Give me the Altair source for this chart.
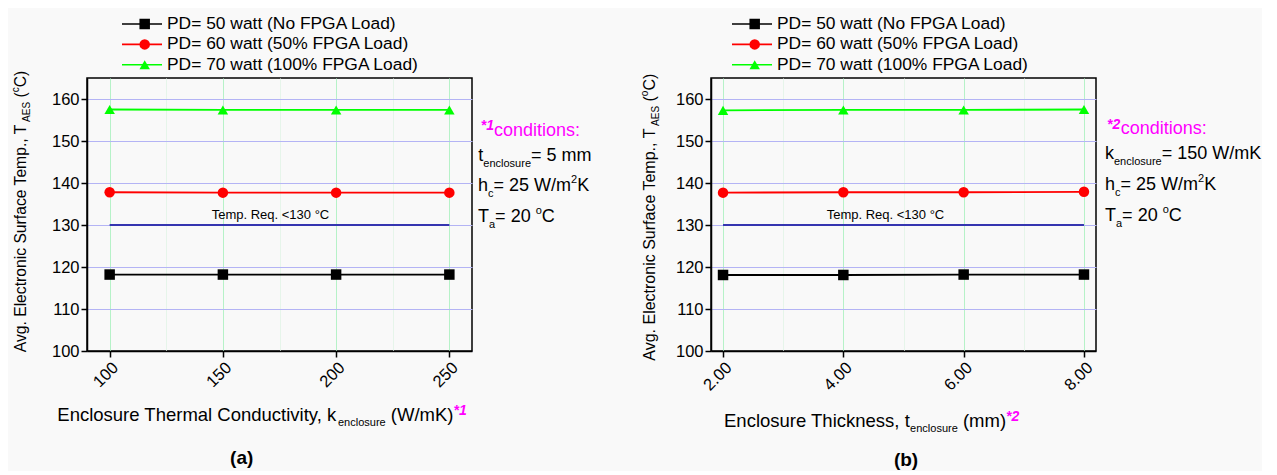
import altair as alt
import pandas as pd

FONT = "Liberation Sans"

# ---------------- data ----------------
series_names = ["PD= 50 watt (No FPGA Load)", "PD= 60 watt (50% FPGA Load)", "PD= 70 watt (100% FPGA Load)"]
series_colors = ["#000000", "#ff0000", "#00ff00"]
series_shapes = ["square", "circle", "triangle-up"]

k_enclosure = [100, 150, 200, 250]
k_pd50 = [118.2, 118.2, 118.2, 118.2]
k_pd60 = [137.8, 137.7, 137.7, 137.7]
k_pd70 = [157.5, 157.4, 157.4, 157.4]

t_enclosure = [2.0, 4.0, 6.0, 8.0]
t_pd50 = [118.1, 118.1, 118.2, 118.2]
t_pd60 = [137.7, 137.8, 137.8, 137.9]
t_pd70 = [157.3, 157.4, 157.4, 157.5]

temp_req = 130
k_req_span = [100, 250]
t_req_span = [2.0, 8.0]

k_ticks = [100, 125, 150, 175, 200, 225, 250]
t_ticks = [2, 3, 4, 5, 6, 7, 8]
y_ticks = [100, 105, 110, 115, 120, 125, 130, 135, 140, 145, 150, 155, 160, 165]

# ---------------- helpers ----------------
AW = {' ': 278, '(': 333, ')': 333, '*': 389, ',': 278, '.': 278, '/': 278, ':': 278,
      '<': 584, '=': 584, '°': 400, '%': 889,
      'A': 667, 'C': 722, 'D': 722, 'E': 667, 'F': 611, 'G': 778, 'K': 667, 'L': 556,
      'N': 722, 'P': 667, 'R': 722, 'S': 667, 'T': 611, 'W': 944,
      'a': 556, 'b': 556, 'c': 500, 'd': 556, 'e': 556, 'f': 278, 'g': 556, 'h': 556,
      'i': 222, 'k': 500, 'l': 222, 'm': 833, 'n': 556, 'o': 556, 'p': 556, 'q': 556,
      'r': 333, 's': 500, 't': 278, 'u': 556, 'v': 500, 'w': 722, 'y': 500}


def tw(s, size):
    return sum(AW.get(c, 556) for c in s) / 1000.0 * size


ONE = pd.DataFrame({"t": [""]})


def run(pieces, x0, y0, origin, angle=0):
    """Chain text pieces (text, size, shift, color, weight, style) starting at page coords."""
    ox, oy = origin
    layers = []
    pos = 0.0
    for (t, size, shift, color, weight, style) in pieces:
        body = t.strip(' ')
        lead = tw(t[:len(t) - len(t.lstrip(' '))], size)
        if angle == 0:
            x, y = x0 + pos + lead, y0 + shift
        else:
            x, y = x0 + shift, y0 - pos - lead
        layers.append(
            alt.Chart(pd.DataFrame({"t": [body]}))
            .mark_text(align="left", baseline="alphabetic", angle=angle, font=FONT,
                       fontSize=size, color=color, fontWeight=weight, fontStyle=style)
            .encode(x=alt.value(x - ox), y=alt.value(y - oy), text="t:N")
        )
        pos += tw(t, size)
    return layers


def P(t, size, shift=0, color="black", weight="normal", style="normal"):
    return (t, size, shift, color, weight, style)


MAG = "#ff00ff"
W, H = 385, 273


def panel(xvals, ys, xdomain, xticks, major_test, fmt, req_span, req_text_x, origin,
          legend_x, ytitle, xtitle, cond, caption):
    rows = []
    for name, vals in zip(series_names, ys):
        for xv, v in zip(xvals, vals):
            rows.append({"x": xv, "T": v, "series": name})
    df = pd.DataFrame(rows)

    xaxis = alt.Axis(values=xticks, format=fmt, title=None, labelAngle=-45,
                     labelExpr=f"({major_test}) ? datum.label : ''",
                     labelOverlap=False, labelFlush=False, labelPadding=2,
                     gridColor={"condition": {"test": major_test, "value": "#b6f2c8"}, "value": "#e6f5ea"},
                     tickOpacity={"condition": {"test": major_test, "value": 1}, "value": 0})
    yaxis = alt.Axis(values=y_ticks, title=None, labelPadding=2,
                     labelExpr="(datum.value % 10 === 0) ? datum.label : ''",
                     labelOverlap=False, labelFlush=False,
                     gridColor={"condition": {"test": "datum.value % 10 === 0", "value": "#b4b4f5"}, "value": "#e6e6f8"},
                     tickOpacity={"condition": {"test": "datum.value % 10 === 0 && datum.value < 165", "value": 1}, "value": 0})
    xenc = alt.X("x:Q", scale=alt.Scale(domain=xdomain, nice=False, zero=False), axis=xaxis)
    yenc = alt.Y("T:Q", scale=alt.Scale(domain=[100, 165], nice=False, zero=False), axis=yaxis)

    common_leg = dict(title=None, orient="none", legendX=legend_x, legendY=-64,
                      labelFont=FONT, labelFontSize=17.4, labelColor="black", labelLimit=500,
                      clipHeight=20, rowPadding=0.4, padding=0)

    line_leg = alt.Legend(symbolType="stroke", symbolSize=1600, symbolStrokeWidth=1.6,
                          labelOffset=4, **common_leg)
    pt_leg = alt.Legend(symbolSize=110, symbolStrokeWidth=0, labelExpr="''",
                        symbolOffset=15, **common_leg)

    base = alt.Chart(df)
    line = base.transform_calculate(sl="datum.series").mark_line(strokeWidth=1.8).encode(
        x=xenc, y=yenc,
        stroke=alt.Stroke("sl:N", scale=alt.Scale(range=series_colors), legend=line_leg),
    )
    pts = base.mark_point(filled=True, size=110, opacity=1, strokeWidth=0).encode(
        x=xenc, y=yenc,
        fill=alt.Fill("series:N", scale=alt.Scale(range=series_colors), legend=pt_leg),
        shape=alt.Shape("series:N", scale=alt.Scale(range=series_shapes), legend=pt_leg),
    )
    req = alt.Chart(ONE).mark_rule(color="#3535b0", strokeWidth=2).encode(
        x=alt.datum(req_span[0]), x2=alt.datum(req_span[1]), y=alt.datum(temp_req))
    req_txt = alt.Chart(ONE).mark_text(align="center", baseline="alphabetic", dy=-6,
                                       font=FONT, fontSize=13, color="black").encode(
        x=alt.datum(req_text_x), y=alt.datum(temp_req), text=alt.value("Temp. Req. <130 °C"))

    layers = [line, pts, req, req_txt]
    for (pieces, x0, y0, ang) in ytitle + xtitle + cond:
        layers += run(pieces, x0, y0, origin, ang)
    cap_t, cap_x, cap_y = caption
    layers.append(
        alt.Chart(pd.DataFrame({"t": [cap_t]})).mark_text(
            align="center", baseline="alphabetic", font=FONT, fontSize=19, fontWeight="bold",
            color="black").encode(x=alt.value(cap_x - origin[0]), y=alt.value(cap_y - origin[1]), text="t:N"))
    return alt.layer(*layers).properties(width=W, height=H)


YT = 15.7
OL = (87, 79)
OR = (711, 79)

left = panel(
    k_enclosure, [k_pd50, k_pd60, k_pd70], [90, 260], k_ticks, "datum.value % 50 === 0", "d",
    k_req_span, 171, OL, 34,
    ytitle=[([P("Avg. Electronic Surface Temp., T", YT), P("AES", 10, 4), P(" (", YT),
              P("c", 10, -7), P("C)", YT)], 26, 353.3, 270)],
    xtitle=[([P("Enclosure Thermal Conductivity, k", 18.5), P("enclosure", 11, 5),
              P(" (W/mK)", 18.5), P("*1", 14, -6, MAG, "bold", "italic")], 57.3, 421.7, 0)],
    cond=[([P("*1", 14, 0, MAG, "bold", "italic")], 480.7, 130.7, 0),
          ([P("conditions:", 18, 0, MAG)], 494, 136.7, 0),
          ([P("t", 18), P("enclosure", 11, 6), P("= 5 mm", 18)], 478.3, 161.7, 0),
          ([P("h", 18), P("c", 11, 6), P("= 25 W/m", 18), P("2", 11, -8), P("K", 18)], 478, 192.3, 0),
          ([P("T", 18), P("a", 11, 6), P("= 20 ", 18), P("o", 11, -8), P("C", 18)], 478, 223.3, 0)],
    caption=("(a)", 241.7, 465),
)

right = panel(
    t_enclosure, [t_pd50, t_pd60, t_pd70], [1.8, 8.2], t_ticks, "datum.value % 2 === 0", ".2f",
    t_req_span, 4.7, OR, 20,
    ytitle=[([P("Avg. Electronic Surface Temp., T", 16), P("AES", 10, 4), P(" (", 16),
              P("o", 10, -7), P("C)", 16)], 655, 361.7, 270)],
    xtitle=[([P("Enclosure Thickness, t", 18.5), P("enclosure", 11, 5),
              P(" (mm)", 18.5), P("*2", 14, -6, MAG, "bold", "italic")], 724, 428.3, 0)],
    cond=[([P("*2", 14, 0, MAG, "bold", "italic")], 1107, 130, 0),
          ([P("conditions:", 18, 0, MAG)], 1120.7, 135, 0),
          ([P("k", 18), P("enclosure", 11, 6), P("= 150 W/mK", 18)], 1105, 160, 0),
          ([P("h", 18), P("c", 11, 6), P("= 25 W/m", 18), P("2", 11, -8), P("K", 18)], 1105, 190.7, 0),
          ([P("T", 18), P("a", 11, 6), P("= 20 ", 18), P("o", 11, -8), P("C", 18)], 1105, 221.7, 0)],
    caption=("(b)", 906, 466.7),
)

chart = (
    alt.hconcat(left, right, spacing=239, bounds="flush")
    .resolve_scale(stroke="independent", fill="independent", shape="independent")
    .resolve_legend(stroke="independent", fill="independent", shape="independent")
    .properties(background="#f9f9f9", padding={"left": 2, "top": 5, "right": 0, "bottom": 0})
    .configure_view(stroke="black", strokeWidth=1.5)
    .configure_axis(domainColor="black", domainWidth=1.5, tickColor="black", tickWidth=1.5,
                    tickSize=6, labelFont=FONT, labelFontSize=16.5, labelColor="black",
                    gridWidth=1)
)

chart.save("out.html", embed_options={"renderer": "svg", "actions": False})
